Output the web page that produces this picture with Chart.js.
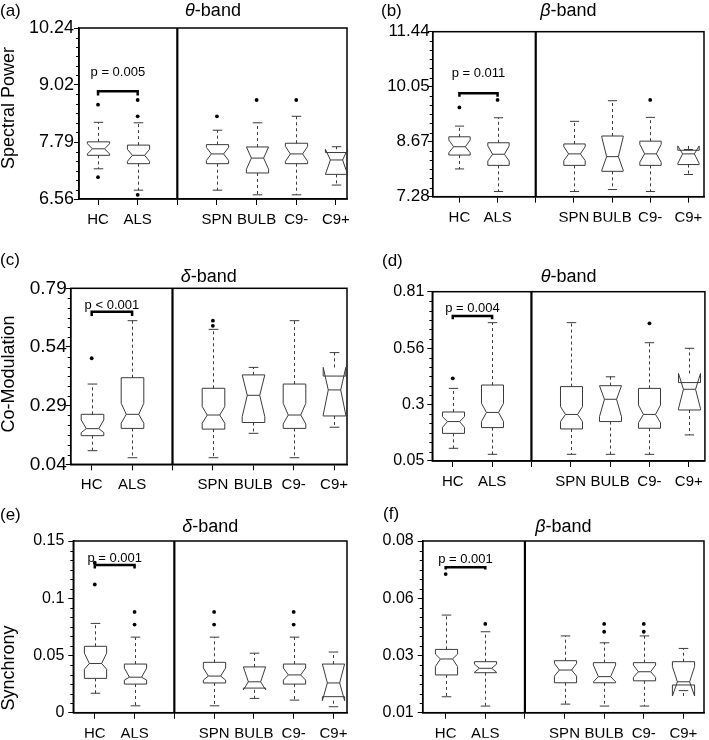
<!DOCTYPE html>
<html>
<head>
<meta charset="utf-8">
<script src="https://cdn.jsdelivr.net/npm/chart.js@4.4.0/dist/chart.umd.min.js"></script>
<style>
  body { margin: 0; background: #fff; }
  #wrap { position: relative; width: 709px; height: 740px; }
  canvas { position: absolute; left: 0; top: 0; }
</style>
</head>
<body>
<div id="wrap">
  <canvas id="pa" width="709" height="740"></canvas>
  <canvas id="pb" width="709" height="740"></canvas>
  <canvas id="pc" width="709" height="740"></canvas>
  <canvas id="pd" width="709" height="740"></canvas>
  <canvas id="pe" width="709" height="740"></canvas>
  <canvas id="pf" width="709" height="740"></canvas>
</div>
<script>
// groups on the x axis (3 is the divider between controls and patient subgroups)
const groups = ['HC', 'ALS', 'SPN', 'BULB', 'C9-', 'C9+'];
const groupX = [1, 2, 4, 5, 6, 7];
const xTickValues = [1, 2, 3, 4, 5, 6, 7];
const xTickLabels = ['HC', 'ALS', '', 'SPN', 'BULB', 'C9-', 'C9+'];

// each box: [whiskerLow, Q1, notchLow, median, notchHigh, Q3, whiskerHigh]
const powerThetaBoxes = [
  [7.21, 7.50, 7.53, 7.64, 7.75, 7.79, 8.21],
  [6.75, 7.32, 7.37, 7.50, 7.63, 7.72, 8.20],
  [6.75, 7.32, 7.39, 7.53, 7.67, 7.73, 8.04],
  [6.65, 7.12, 7.20, 7.44, 7.68, 7.68, 8.20],
  [6.65, 7.32, 7.37, 7.53, 7.69, 7.76, 8.34],
  [6.86, 7.09, 7.09, 7.40, 7.63, 7.56, 7.685]
];
const powerThetaOutliers = [[8.59, 7.03], [8.69, 8.34, 6.65], [8.34], [8.69], [8.69], []];
const powerThetaTicks = ['6.56', '7.79', '9.02', '10.24'];
const powerThetaRange = [6.56, 10.24];
const powerThetaBracket = [8.88, 8.79, 9.28];

const powerBetaBoxes = [
  [7.98, 8.33, 8.39, 8.54, 8.71, 8.79, 9.06],
  [7.41, 8.07, 8.18, 8.35, 8.56, 8.64, 9.27],
  [7.41, 8.07, 8.19, 8.36, 8.54, 8.61, 9.18],
  [7.46, 7.92, 7.95, 8.29, 8.78, 8.81, 9.70],
  [7.41, 8.07, 8.15, 8.36, 8.60, 8.68, 9.28],
  [7.84, 8.09, 8.12, 8.36, 8.56, 8.45, 8.47]
];
const powerBetaOutliers = [[9.53], [9.72], [], [], [9.72], []];
const powerBetaTicks = ['7.28', '8.67', '10.05', '11.44'];
const powerBetaRange = [7.28, 11.44];
const powerBetaBracket = [9.89, 9.80, 10.39];

const comodDeltaBoxes = [
  [0.098, 0.162, 0.175, 0.192, 0.229, 0.253, 0.382],
  [0.068, 0.193, 0.215, 0.253, 0.300, 0.409, 0.652],
  [0.068, 0.190, 0.215, 0.250, 0.286, 0.364, 0.615],
  [0.172, 0.218, 0.243, 0.334, 0.421, 0.421, 0.453],
  [0.068, 0.193, 0.212, 0.250, 0.300, 0.382, 0.652],
  [0.198, 0.246, 0.250, 0.357, 0.453, 0.416, 0.516]
];
const comodDeltaOutliers = [[0.492], [], [0.652, 0.630], [], [], []];
const comodDeltaTicks = ['0.04', '0.29', '0.54', '0.79'];
const comodDeltaRange = [0.04, 0.79];
const comodDeltaBracket = [0.690, 0.672, 0.718];

const comodThetaBoxes = [
  [0.107, 0.174, 0.201, 0.227, 0.249, 0.270, 0.376],
  [0.080, 0.200, 0.227, 0.268, 0.309, 0.391, 0.671],
  [0.080, 0.194, 0.227, 0.259, 0.294, 0.384, 0.671],
  [0.080, 0.227, 0.249, 0.327, 0.388, 0.388, 0.428],
  [0.080, 0.197, 0.222, 0.259, 0.301, 0.376, 0.581],
  [0.167, 0.279, 0.285, 0.372, 0.443, 0.402, 0.556]
];
const comodThetaOutliers = [[0.421], [], [], [], [0.668], []];
const comodThetaTicks = ['0.05', '0.3', '0.56', '0.81'];
const comodThetaRange = [0.05, 0.81];
const comodThetaBracket = [0.701, 0.686, 0.735];

const syncDeltaBoxes = [
  [0.017, 0.030, 0.038, 0.043, 0.052, 0.058, 0.078],
  [0.006, 0.025, 0.0285, 0.031, 0.039, 0.0425, 0.066],
  [0.006, 0.026, 0.0285, 0.032, 0.039, 0.044, 0.066],
  [0.0125, 0.0215, 0.020, 0.027, 0.040, 0.040, 0.052],
  [0.011, 0.025, 0.0285, 0.033, 0.039, 0.0425, 0.066],
  [0.0052, 0.014, 0.0105, 0.026, 0.0425, 0.0425, 0.053]
];
const syncDeltaOutliers = [[0.131, 0.112], [0.088, 0.077], [0.088, 0.077], [], [0.088, 0.077], []];
const syncDeltaTicks = ['0', '0.05', '0.1', '0.15'];
const syncDeltaRange = [0, 0.15];
const syncDeltaBracket = [0.129, 0.126, 0.135];

const syncBetaBoxes = [
  [0.0165, 0.0254, 0.0288, 0.0319, 0.0339, 0.0358, 0.0498],
  [0.0127, 0.0263, 0.0265, 0.0281, 0.0298, 0.0308, 0.0430],
  [0.0135, 0.0222, 0.0249, 0.0274, 0.0301, 0.0312, 0.0413],
  [0.0127, 0.0222, 0.0226, 0.0247, 0.0294, 0.0304, 0.0385],
  [0.0127, 0.0230, 0.0244, 0.0267, 0.0294, 0.0304, 0.0413],
  [0.0190, 0.0213, 0.0168, 0.0226, 0.0288, 0.0308, 0.0362]
];
const syncBetaOutliers = [[0.0665], [0.0462], [], [0.0462, 0.043], [0.0462, 0.043], []];
const syncBetaTicks = ['0.01', '0.03', '0.06', '0.08'];
const syncBetaRange = [0.01, 0.08];
const syncBetaBracket = [0.0693, 0.0684, 0.0725];

const FONT = "'Liberation Sans', Arial, sans-serif";

// panel layout: plot box, x range, header text and positions
const panels = [
  { id: 'pa', letter: '(a)', greek: 'θ', yTitle: 'Spectral Power', pText: 'p = 0.005',
    boxes: powerThetaBoxes, outliers: powerThetaOutliers, ticks: powerThetaTicks, range: powerThetaRange, bracket: powerThetaBracket,
    box: [79, 28, 347, 199], xr: [0.52, 7.28], tickFont: 18, tickPad: 0,
    letterPos: [0, 11], titleY: 11, yTitlePos: [9, 108] },
  { id: 'pb', letter: '(b)', greek: 'β', yTitle: '', pText: 'p = 0.011',
    boxes: powerBetaBoxes, outliers: powerBetaOutliers, ticks: powerBetaTicks, range: powerBetaRange, bracket: powerBetaBracket,
    box: [432.7, 31.7, 704, 196.7], xr: [0.3, 7.41], tickFont: 17, tickPad: -2,
    letterPos: [381, 11], titleY: 11 },
  { id: 'pc', letter: '(c)', greek: 'δ', yTitle: 'Co-Modulation', pText: 'p < 0.001',
    boxes: comodDeltaBoxes, outliers: comodDeltaOutliers, ticks: comodDeltaTicks, range: comodDeltaRange, bracket: comodDeltaBracket,
    box: [70.7, 288.3, 347, 464.3], xr: [0.48, 7.32], tickFont: 19, tickPad: -1,
    letterPos: [0, 260], titleY: 277, yTitlePos: [9, 374] },
  { id: 'pd', letter: '(d)', greek: 'θ', yTitle: '', pText: 'p = 0.004',
    boxes: comodThetaBoxes, outliers: comodThetaOutliers, ticks: comodThetaTicks, range: comodThetaRange, bracket: comodThetaBracket,
    box: [432.3, 291.7, 705, 461], xr: [0.48, 7.41], tickFont: 16, tickPad: 3,
    letterPos: [382, 261], titleY: 277 },
  { id: 'pe', letter: '(e)', greek: 'δ', yTitle: 'Synchrony', pText: 'p = 0.001',
    boxes: syncDeltaBoxes, outliers: syncDeltaOutliers, ticks: syncDeltaTicks, range: syncDeltaRange, bracket: syncDeltaBracket,
    box: [73.3, 541, 347, 712.7], xr: [0.46, 7.34], tickFont: 16, tickPad: 4,
    letterPos: [0, 515], titleY: 527, yTitlePos: [9, 668] },
  { id: 'pf', letter: '(f)', greek: 'β', yTitle: '', pText: 'p = 0.001',
    boxes: syncBetaBoxes, outliers: syncBetaOutliers, ticks: syncBetaTicks, range: syncBetaRange, bracket: syncBetaBracket,
    box: [422.7, 541, 704, 712.7], xr: [0.42, 7.52], tickFont: 16, tickPad: 4,
    letterPos: [383, 514], titleY: 527 }
];

const Y_W = 60, X_H = 25;

function line(ctx, x1, y1, x2, y2) {
  ctx.beginPath(); ctx.moveTo(x1, y1); ctx.lineTo(x2, y2); ctx.stroke();
}

const notchPlugin = {
  id: 'notchBoxes',
  afterDatasetsDraw(chart, args, opts) {
    const p = opts.panel;
    const { ctx, chartArea: a } = chart;
    const x = chart.scales.x, y = chart.scales.y;
    ctx.save();
    // frame + divider
    ctx.strokeStyle = '#000';
    ctx.lineWidth = 1.5;
    ctx.strokeRect(a.left, a.top, a.right - a.left, a.bottom - a.top);
    const dx = x.getPixelForValue(3);
    ctx.lineWidth = 2.2;
    line(ctx, dx, a.top, dx, a.bottom);

    // minor y ticks
    ctx.lineWidth = 1;
    const [lo, hi] = p.range;
    for (let k = 1; k < 18; k++) {
      if (k % 6 === 0) continue;
      const yy = Math.round(y.getPixelForValue(lo + k * (hi - lo) / 18)) + 0.5;
      line(ctx, a.left - 3, yy, a.left, yy);
    }

    const unit = x.getPixelForValue(2) - x.getPixelForValue(1);
    const hw = unit * 0.28, nw = hw * 0.55, cw = unit * 0.12;
    p.boxes.forEach((b, i) => {
      const cx = Math.round(x.getPixelForValue(groupX[i])) + 0.5;
      const [wl, q1, nl, md, nh, q3, wh] = b.map(v => y.getPixelForValue(v));
      ctx.strokeStyle = '#3a3a3a';
      ctx.lineWidth = 1;
      ctx.setLineDash([3, 3]);
      line(ctx, cx, Math.min(q3, nh), cx, wh);
      line(ctx, cx, Math.max(q1, nl), cx, wl);
      ctx.setLineDash([]);
      line(ctx, cx - cw, wh, cx + cw, wh);
      line(ctx, cx - cw, wl, cx + cw, wl);
      ctx.beginPath();
      ctx.moveTo(cx - hw, q1);
      ctx.lineTo(cx - hw, nl);
      ctx.lineTo(cx - nw, md);
      ctx.lineTo(cx - hw, nh);
      ctx.lineTo(cx - hw, q3);
      ctx.lineTo(cx + hw, q3);
      ctx.lineTo(cx + hw, nh);
      ctx.lineTo(cx + nw, md);
      ctx.lineTo(cx + hw, nl);
      ctx.lineTo(cx + hw, q1);
      ctx.closePath();
      ctx.stroke();
      line(ctx, cx - nw, md, cx + nw, md);
    });

    // significance bracket HC vs ALS
    const bx1 = x.getPixelForValue(groupX[0]), bx2 = x.getPixelForValue(groupX[1]);
    const by = y.getPixelForValue(p.bracket[0]), bl = y.getPixelForValue(p.bracket[1]);
    ctx.strokeStyle = '#000';
    ctx.lineWidth = 2.5;
    ctx.beginPath();
    ctx.moveTo(bx1, bl); ctx.lineTo(bx1, by); ctx.lineTo(bx2, by); ctx.lineTo(bx2, bl);
    ctx.stroke();
    ctx.fillStyle = '#000';
    ctx.font = '13px ' + FONT;
    ctx.textAlign = 'center';
    ctx.textBaseline = 'middle';
    ctx.fillText(p.pText, (bx1 + bx2) / 2, y.getPixelForValue(p.bracket[2]));

    // panel letter, band title, y title
    ctx.textAlign = 'left';
    ctx.font = '17px ' + FONT;
    ctx.fillText(p.letter, p.letterPos[0], p.letterPos[1]);
    ctx.font = 'italic 18px ' + FONT;
    const gw = ctx.measureText(p.greek).width;
    ctx.font = '18px ' + FONT;
    const bw = ctx.measureText('-band').width;
    const tx = (a.left + a.right) / 2 - (gw + bw) / 2;
    ctx.font = 'italic 18px ' + FONT;
    ctx.fillText(p.greek, tx, p.titleY);
    ctx.font = '18px ' + FONT;
    ctx.fillText('-band', tx + gw, p.titleY);
    if (p.yTitle) {
      ctx.save();
      ctx.translate(p.yTitlePos[0], p.yTitlePos[1]);
      ctx.rotate(-Math.PI / 2);
      ctx.textAlign = 'center';
      ctx.font = '18px ' + FONT;
      ctx.fillText(p.yTitle, 0, 0);
      ctx.restore();
    }
    ctx.restore();
  }
};

panels.forEach(p => {
  const [l, t, r, b] = p.box;
  const [lo, hi] = p.range;
  const points = [];
  p.outliers.forEach((vals, i) => vals.forEach(v => points.push({ x: groupX[i], y: v })));
  new Chart(document.getElementById(p.id), {
    type: 'scatter',
    data: {
      datasets: [{
        data: points,
        pointRadius: 1.9,
        pointBackgroundColor: '#000',
        pointBorderWidth: 0,
        clip: false
      }]
    },
    options: {
      responsive: false,
      animation: false,
      layout: { padding: { left: l - Y_W, top: t, right: 709 - r, bottom: 740 - b - X_H } },
      plugins: { legend: { display: false }, tooltip: { enabled: false }, notchBoxes: { panel: p } },
      scales: {
        x: {
          type: 'linear', min: p.xr[0], max: p.xr[1],
          afterBuildTicks: s => { s.ticks = xTickValues.map(v => ({ value: v })); },
          afterFit: s => { s.height = X_H; },
          ticks: { autoSkip: false, maxRotation: 0, padding: 6, color: '#000',
            font: { family: FONT, size: 15 }, callback: (v, i) => xTickLabels[i] },
          grid: { drawOnChartArea: false, tickLength: 6, color: '#000' },
          border: { color: '#000', width: 1.5 }
        },
        y: {
          type: 'linear', min: lo, max: hi,
          afterBuildTicks: s => { s.ticks = [0, 1, 2, 3].map(k => ({ value: lo + k * (hi - lo) / 3 })); },
          afterFit: s => { s.width = Y_W; },
          ticks: { padding: p.tickPad, color: '#000', font: { family: FONT, size: p.tickFont },
            callback: (v, i) => p.ticks[i] },
          grid: { drawOnChartArea: false, tickLength: 5, color: '#000' },
          border: { color: '#000', width: 1.5 }
        }
      }
    },
    plugins: [notchPlugin]
  });
});
</script>
</body>
</html>
